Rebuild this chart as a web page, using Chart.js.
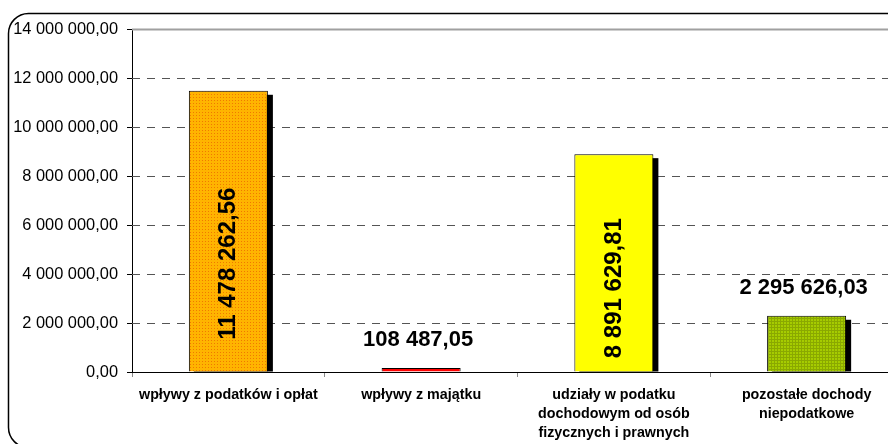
<!DOCTYPE html>
<html>
<head>
<meta charset="utf-8">
<script src="https://cdn.jsdelivr.net/npm/chart.js@4.4.1/dist/chart.umd.min.js"></script>
<style>
  html, body { margin: 0; padding: 0; background: #fff; overflow: hidden; }
  #wrap { position: relative; width: 912px; height: 444px; }
</style>
</head>
<body>
<div id="wrap"><canvas id="c"></canvas></div>
<script>
const categories = [
  ["wpływy z podatków i opłat"],
  ["wpływy z majątku"],
  ["udziały w podatku", "dochodowym od osób", "fizycznych i prawnych"],
  ["pozostałe dochody", "niepodatkowe"]
];
const values = [11478262.56, 108487.05, 8891629.81, 2295626.03];
const yTicks = [0, 2000000, 4000000, 6000000, 8000000, 10000000, 12000000, 14000000];

function fmtPL(v) {
  const parts = v.toFixed(2).split(".");
  const intPart = parts[0].replace(/\B(?=(\d{3})+(?!\d))/g, " ");
  return intPart + "," + parts[1];
}

function makePattern(base, dot, mode) {
  const c = document.createElement("canvas");
  c.width = 3; c.height = 3;
  const g = c.getContext("2d");
  g.fillStyle = base; g.fillRect(0, 0, 3, 3);
  g.fillStyle = dot;
  if (mode === "grid") {
    g.fillRect(0, 0, 3, 1); g.fillRect(0, 0, 1, 3);
  } else {
    g.fillRect(1, 1, 1, 1);
  }
  const ctx = document.getElementById("c").getContext("2d");
  return ctx.createPattern(c, "repeat");
}

const fills = [
  makePattern("#FFB400", "#F07800", "dot"),
  "#FF0000",
  "#FFFF00",
  makePattern("#A6CC00", "#8AA800", "grid")
];

const framePlugin = {
  id: "frame",
  beforeDraw(chart) {
    const ctx = chart.ctx;
    ctx.save();
    ctx.fillStyle = "#fff";
    ctx.fillRect(0, 0, chart.width, chart.height);
    ctx.beginPath();
    ctx.roundRect(8.5, 13.5, 920, 434, 20);
    ctx.lineWidth = 1.5;
    ctx.strokeStyle = "#000";
    ctx.stroke();
    ctx.restore();
  },
  beforeDatasetsDraw(chart) {
    const ctx = chart.ctx;
    const a = chart.chartArea;
    const y = chart.scales.y;
    ctx.save();
    ctx.lineWidth = 1;
    yTicks.forEach(t => {
      const py = Math.round(y.getPixelForValue(t)) + 0.5;
      if (t === 0) return;
      ctx.beginPath();
      if (t === yTicks[yTicks.length - 1]) {
        ctx.setLineDash([]);
        ctx.strokeStyle = "#a0a0a0";
        ctx.lineWidth = 2;
      } else {
        ctx.setLineDash([8, 7]);
        ctx.strokeStyle = "#555";
        ctx.lineWidth = 1;
      }
      ctx.moveTo(a.left, py);
      ctx.lineTo(a.right + 20, py);
      ctx.stroke();
    });
    ctx.setLineDash([]);
    // shadows
    const meta = chart.getDatasetMeta(0);
    ctx.fillStyle = "#000";
    meta.data.forEach(bar => {
      const w = bar.width;
      const x0 = bar.x - w / 2 + 5;
      const top = bar.y + 4;
      const h = bar.base - top;
      if (h > 0) ctx.fillRect(x0, top, w, h);
    });
    ctx.restore();
  },
  afterDatasetsDraw(chart) {
    const ctx = chart.ctx;
    const y = chart.scales.y;
    const meta = chart.getDatasetMeta(0);
    ctx.save();
    ctx.fillStyle = "#000";
    ctx.textAlign = "center";
    ctx.textBaseline = "middle";
    meta.data.forEach((bar, i) => {
      const txt = fmtPL(values[i]);
      const hgt = bar.base - bar.y;
      if (hgt > 150) {
        ctx.font = "bold 24px 'Liberation Sans', Arial, sans-serif";
        const cy = y.getPixelForValue(values[i] * 0.385);
        ctx.save();
        ctx.translate(bar.x, cy);
        ctx.rotate(-Math.PI / 2);
        ctx.fillText(txt, 0, 0);
        ctx.restore();
      } else {
        ctx.font = "bold 22px 'Liberation Sans', Arial, sans-serif";
        ctx.fillText(txt, bar.x - 3, bar.y - 28);
      }
    });
    ctx.restore();
  }
};

new Chart(document.getElementById("c"), {
  type: "bar",
  data: {
    labels: categories,
    datasets: [{
      data: values,
      backgroundColor: fills,
      borderColor: "#000",
      borderWidth: 1,
      minBarLength: 4,
      categoryPercentage: 1,
      barPercentage: 0.41
    }]
  },
  options: {
    responsive: true,
    maintainAspectRatio: false,
    animation: false,
    devicePixelRatio: 1,
    layout: { padding: { left: 0, top: 29, right: 9, bottom: 0 } },
    plugins: { legend: { display: false }, tooltip: { enabled: false } },
    scales: {
      x: {
        offset: true,
        grid: { display: true, drawOnChartArea: false, drawTicks: true, tickLength: 5, color: "#888", offset: true },
        border: { display: true, color: "#000", width: 1 },
        ticks: {
          color: "#000",
          padding: 9,
          maxRotation: 0,
          autoSkip: false,
          font: { family: "'Liberation Sans', Arial, sans-serif", size: 14.3, weight: "bold", lineHeight: 1.33 }
        },
        afterFit(s) { s.height = 72; }
      },
      y: {
        min: 0,
        max: 14000000,
        afterBuildTicks(s) { s.ticks = yTicks.map(v => ({ value: v })); },
        grid: { display: true, drawOnChartArea: false, drawTicks: true, tickLength: 5, color: "#000" },
        border: { display: true, color: "#000", width: 1 },
        ticks: {
          color: "#000",
          padding: 9,
          font: { family: "'Liberation Sans', Arial, sans-serif", size: 16.4 },
          callback: v => fmtPL(v)
        },
        afterFit(s) { s.width = 132; }
      }
    }
  },
  plugins: [framePlugin]
});
</script>
</body>
</html>
